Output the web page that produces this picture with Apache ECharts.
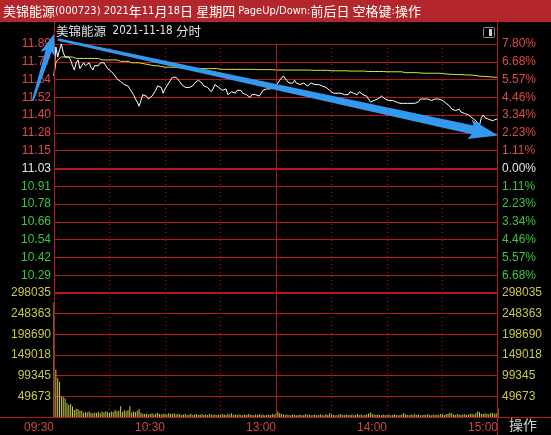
<!DOCTYPE html>
<html><head><meta charset="utf-8">
<script src="https://cdn.jsdelivr.net/npm/echarts@6/dist/echarts.min.js"></script>
<style>html,body{margin:0;padding:0;background:#000;}#c{width:551px;height:435px;}</style>
</head><body><div id="c"></div>
<script>
// ---------- data ----------
const stockTitle = '美锦能源(000723) 2021年11月18日 星期四 PageUp/Down:前后日 空格键:操作';
const subTitle = '美锦能源  2021-11-18 分时';
const prevClose = 11.03;
const priceMin = 10.17;
const priceMax = 11.89;
const volMax = 298035;
const priceTicks = ['11.89','11.77','11.64','11.52','11.40','11.28','11.15','11.03','10.91','10.78','10.66','10.54','10.42','10.29'];
const pctTicks = ['7.80%','6.68%','5.57%','4.46%','3.34%','2.23%','1.11%','0.00%','1.11%','2.23%','3.34%','4.46%','5.57%','6.68%'];
const volTicks = ['49673','99345','149018','198690','248363','298035'];
const timeTickIndex = [0,60,120,180,240];
const timeTicks = ['09:30','10:30','13:00','14:00','15:00'];

const price = [
11.67,11.87,11.80,11.85,11.89,11.83,11.80,11.79,11.80,11.78,
11.74,11.71,11.76,11.78,11.72,11.74,11.76,11.74,11.75,11.76,
11.73,11.71,11.74,11.75,11.74,11.76,11.76,11.76,11.74,11.72,
11.71,11.70,11.69,11.67,11.65,11.64,11.63,11.62,11.61,11.62,
11.60,11.58,11.56,11.54,11.51,11.49,11.46,11.50,11.54,11.55,
11.53,11.51,11.50,11.53,11.54,11.57,11.60,11.61,11.59,11.55,
11.58,11.60,11.62,11.64,11.66,11.67,11.66,11.65,11.63,11.61,
11.60,11.59,11.60,11.59,11.60,11.60,11.62,11.62,11.64,11.65,
11.62,11.60,11.61,11.59,11.58,11.56,11.58,11.61,11.60,11.59,
11.58,11.57,11.56,11.58,11.54,11.54,11.56,11.57,11.55,11.57,
11.58,11.57,11.55,11.56,11.54,11.53,11.52,11.54,11.53,11.54,
11.53,11.53,11.55,11.57,11.58,11.58,11.58,11.58,11.58,11.59,
11.59,11.62,11.64,11.65,11.67,11.65,11.64,11.62,11.61,11.62,
11.64,11.62,11.61,11.61,11.62,11.62,11.62,11.60,11.61,11.62,
11.62,11.61,11.61,11.61,11.60,11.60,11.59,11.59,11.59,11.57,
11.56,11.55,11.56,11.55,11.56,11.55,11.55,11.54,11.55,11.54,
11.56,11.56,11.55,11.55,11.54,11.56,11.55,11.54,11.55,11.53,
11.51,11.49,11.49,11.50,11.51,11.51,11.52,11.53,11.52,11.51,
11.51,11.50,11.50,11.50,11.50,11.49,11.49,11.48,11.48,11.48,
11.48,11.48,11.48,11.48,11.48,11.48,11.48,11.49,11.51,11.51,
11.51,11.50,11.51,11.51,11.50,11.51,11.51,11.50,11.51,11.51,
11.50,11.49,11.48,11.47,11.46,11.44,11.44,11.43,11.44,11.44,
11.42,11.42,11.41,11.40,11.40,11.40,11.38,11.37,11.36,11.35,
11.33,11.38,11.40,11.38,11.37,11.37,11.37,11.36,11.37,11.37,11.37
];
const avgPrice = [
11.67,11.76,11.78,11.79,11.80,11.80,11.80,11.80,11.80,11.80,
11.80,11.80,11.79,11.79,11.79,11.79,11.79,11.79,11.79,11.79,
11.79,11.79,11.79,11.79,11.79,11.79,11.78,11.78,11.78,11.78,
11.78,11.78,11.78,11.78,11.78,11.77,11.77,11.77,11.77,11.77,
11.77,11.77,11.76,11.76,11.76,11.76,11.76,11.755,11.755,11.75,
11.75,11.75,11.745,11.745,11.74,11.74,11.74,11.735,11.735,11.735,
11.73,11.73,11.73,11.73,11.73,11.73,11.73,11.725,11.725,11.725,
11.725,11.725,11.725,11.725,11.72,11.72,11.72,11.72,11.72,11.72,
11.72,11.72,11.72,11.72,11.72,11.72,11.72,11.72,11.72,11.72,
11.715,11.715,11.715,11.715,11.715,11.715,11.715,11.715,11.715,11.715,
11.715,11.715,11.715,11.715,11.715,11.715,11.715,11.715,11.715,11.715,
11.713,11.713,11.713,11.713,11.713,11.713,11.713,11.713,11.713,11.713,
11.71,11.71,11.71,11.71,11.71,11.71,11.71,11.71,11.71,11.71,
11.71,11.71,11.71,11.71,11.71,11.71,11.71,11.71,11.71,11.71,
11.708,11.708,11.708,11.708,11.708,11.708,11.708,11.708,11.708,11.708,
11.705,11.705,11.705,11.705,11.705,11.705,11.705,11.705,11.705,11.705,
11.703,11.703,11.703,11.703,11.703,11.703,11.703,11.703,11.703,11.703,
11.70,11.70,11.70,11.70,11.70,11.70,11.70,11.70,11.70,11.70,
11.698,11.698,11.698,11.698,11.698,11.698,11.698,11.698,11.698,11.698,
11.692,11.692,11.692,11.692,11.692,11.692,11.692,11.69,11.69,11.69,
11.688,11.688,11.688,11.688,11.688,11.688,11.688,11.688,11.688,11.688,
11.685,11.684,11.683,11.682,11.681,11.68,11.68,11.679,11.679,11.678,
11.678,11.677,11.677,11.676,11.676,11.675,11.675,11.674,11.672,11.67,
11.668,11.667,11.666,11.665,11.665,11.664,11.663,11.662,11.661,11.66,11.659
];
const volume = [
275000,114000,93000,85000,49000,48000,45000,33000,29000,31000,
25000,17000,20000,19000,15000,15000,10000,12000,11000,13000,
10000,9000,11000,10000,12000,9000,13000,11000,14000,12000,
10000,13000,12000,17000,14000,15000,26000,12000,17000,14000,
16000,26000,11000,13000,12000,15000,19000,10000,8000,7000,
8000,6000,7000,9000,6000,8000,10000,7000,6000,8000,
7000,6000,9000,8000,7000,9000,6000,8000,7000,5000,
6000,7000,5000,6000,8000,5000,6000,7000,5000,6000,
7000,5000,6000,5000,7000,6000,5000,6000,5000,6000,
5000,7000,6000,5000,8000,6000,9000,5000,6000,5000,
6000,5000,4000,6000,5000,7000,6000,5000,4000,6000,
5000,7000,5000,6000,4000,5000,6000,5000,7000,6000,
8000,13000,9000,7000,6000,5000,6000,5000,4000,6000,
5000,4000,5000,6000,4000,5000,7000,5000,6000,4000,
5000,6000,4000,5000,6000,5000,4000,7000,5000,9000,
6000,5000,4000,5000,6000,7000,5000,4000,6000,5000,
5000,6000,4000,5000,7000,5000,6000,4000,5000,6000,
8000,11000,7000,6000,5000,6000,5000,4000,6000,5000,
5000,6000,4000,5000,6000,5000,4000,5000,6000,10000,
6000,5000,4000,6000,5000,7000,5000,6000,4000,5000,
6000,5000,7000,5000,4000,6000,5000,6000,5000,7000,
6000,5000,7000,8000,10000,9000,6000,5000,7000,6000,
5000,6000,7000,5000,6000,8000,7000,6000,9000,13000,
12000,8000,7000,9000,8000,7000,9000,10000,8000,9000,21000
];

// trading minutes 09:30-11:30, 13:01-15:00
function hm(m){const h=Math.floor(m/60),mm=m%60;return (h<10?'0':'')+h+':'+(mm<10?'0':'')+mm;}
const minutes = [];
for (let m = 570; m <= 690; m++) minutes.push(hm(m));
for (let m = 781; m <= 900; m++) minutes.push(hm(m));

// ---------- style ----------
const RED = '#b41818';
const C_UP = '#e04848', C_FLAT = '#e8e8e8', C_DN = '#3cc43c', C_VOL = '#c8c84a', C_TIME = '#d04444';
const FONT = 'Liberation Sans';
const NARROW = '"Liberation Sans Narrow","DejaVu Sans Condensed","Liberation Sans"';

function cls(i){ return i < 7 ? 'u' : (i === 7 ? 'w' : 'd'); }
const rich = {
  u:{color:C_UP,fontFamily:FONT,fontSize:12},
  w:{color:C_FLAT,fontFamily:FONT,fontSize:12},
  d:{color:C_DN,fontFamily:FONT,fontSize:12}
};
// split mixed CJK / latin text into rich segments
function mixed(s){
  return s.match(/[\u3000-\u9fff\uff00-\uffef]+|[^\u3000-\u9fff\uff00-\uffef]+/g)
    .map(p => /[\u3000-\u9fff\uff00-\uffef]/.test(p) ? '{c|'+p+'}' : '{l|'+p+'}').join('');
}
function mixedRich(color, cjkSize, latSize){
  return {c:{color:color,fontSize:cjkSize,fontWeight:'normal',fontFamily:'Noto Sans CJK SC',lineHeight:16,verticalAlign:'middle'},
          l:{color:color,fontSize:latSize,fontWeight:'normal',fontFamily:NARROW,lineHeight:16,verticalAlign:'middle'}};
}

function arrow(tail, tip, w0, w1, hl, hw){
  const dx=tip[0]-tail[0], dy=tip[1]-tail[1], L=Math.hypot(dx,dy), ux=dx/L, uy=dy/L, nx=-uy, ny=ux;
  const bx=tip[0]-ux*hl, by=tip[1]-uy*hl;
  return [[tail[0]+nx*w0,tail[1]+ny*w0],[bx+nx*w1,by+ny*w1],[bx+nx*hw-ux*3,by+ny*hw-uy*3],tip,
          [bx-nx*hw-ux*3,by-ny*hw-uy*3],[bx-nx*w1,by-ny*w1],[tail[0]-nx*w0,tail[1]-ny*w0]];
}

const chart = echarts.init(document.getElementById('c'));
const xBase = {
  type:'category', data:minutes, boundaryGap:false,
  axisLine:{show:false}, axisTick:{show:false},
  splitLine:{show:true, interval:(i)=> i%30===0 && i>0 && i<240 && i!==120, lineStyle:{color:RED,type:[1,3],width:1}}
};
chart.setOption({
  backgroundColor:'#000',
  animation:false,
  title:[
    {text:mixed(stockTitle), left:3, top:3, padding:0, textStyle:{fontWeight:'normal', rich:mixedRich('#ffffff',13,11)}},
    {text:mixed(subTitle), left:56, top:23, padding:0, textStyle:{fontWeight:'normal', rich:mixedRich('#e0e0e0',12.5,11.5)}}
  ],
  grid:[
    {left:54, right:53, top:44, height:249},
    {left:54, right:53, top:293, height:124}
  ],
  xAxis:[
    Object.assign({gridIndex:0, axisLabel:{show:false}}, xBase),
    Object.assign({gridIndex:1, axisLabel:{show:true, interval:(i)=> timeTickIndex.indexOf(i)>=0,
      formatter:(v,i)=> timeTicks[timeTickIndex.indexOf(i)] || '', align:'right', margin:5,
      color:C_TIME, fontFamily:FONT, fontSize:12}}, xBase)
  ],
  yAxis:[
    {gridIndex:0, type:'value', min:0, max:14, interval:1, position:'left',
     axisLine:{show:false}, axisTick:{show:false},
     axisLabel:{margin:3, formatter:(v)=>{v=Math.round(v); if(v===0) return ''; const i=14-v; return '{'+cls(i)+'|'+priceTicks[i]+'}';}, rich:rich},
     splitLine:{show:true, lineStyle:{color:RED,width:1}}},
    {gridIndex:0, type:'value', min:0, max:14, interval:1, position:'right',
     axisLine:{show:false}, axisTick:{show:false},
     axisLabel:{margin:4, formatter:(v)=>{v=Math.round(v); if(v===0) return ''; const i=14-v; return '{'+cls(i)+'|'+pctTicks[i]+'}';}, rich:rich},
     splitLine:{show:false}},
    {gridIndex:0, type:'value', min:priceMin, max:priceMax, show:false, splitLine:{show:false}},
    {gridIndex:1, type:'value', min:0, max:volMax, interval:volMax/6, position:'left',
     axisLine:{show:false}, axisTick:{show:false},
     axisLabel:{margin:3, color:C_VOL, fontFamily:FONT, fontSize:12, formatter:(v)=>{const k=Math.round(v/(volMax/6)); return k===0?'':volTicks[k-1];}},
     splitLine:{show:true, lineStyle:{color:RED,width:1}}},
    {gridIndex:1, type:'value', min:0, max:volMax, interval:volMax/6, position:'right',
     axisLine:{show:false}, axisTick:{show:false},
     axisLabel:{margin:4, color:C_VOL, fontFamily:FONT, fontSize:12, formatter:(v)=>{const k=Math.round(v/(volMax/6)); return k===0?'':volTicks[k-1];}},
     splitLine:{show:false}}
  ],
  series:[
    {type:'line', xAxisIndex:0, yAxisIndex:2, data:avgPrice, showSymbol:false, lineStyle:{color:'#e6e63a',width:1}, z:3,
     markLine:{silent:true, symbol:'none', label:{show:false}, animation:false,
       data:[{yAxis:prevClose, lineStyle:{color:RED,width:2,type:'solid'}},
             {xAxis:minutes[120], lineStyle:{color:RED,width:1,type:'solid'}}]}},
    {type:'line', xAxisIndex:0, yAxisIndex:2, data:price, showSymbol:false, lineStyle:{color:'#ffffff',width:1}, z:4},
    {type:'bar', xAxisIndex:1, yAxisIndex:3, data:volume, barWidth:1, itemStyle:{color:C_VOL}, z:3,
     markLine:{silent:true, symbol:'none', label:{show:false}, animation:false,
       data:[{yAxis:volMax, lineStyle:{color:RED,width:2,type:'solid'}},
             {xAxis:minutes[120], lineStyle:{color:RED,width:1,type:'solid'}}]}}
  ],
  graphic:[
    {type:'rect', z:-10, shape:{x:0,y:0,width:551,height:22}, style:{fill:'#b3272c'}},
    {type:'line', z:5, shape:{x1:54.5,y1:22,x2:54.5,y2:417}, style:{stroke:RED,lineWidth:1}},
    {type:'line', z:5, shape:{x1:497.5,y1:22,x2:497.5,y2:435}, style:{stroke:RED,lineWidth:1}},
    {type:'line', z:5, shape:{x1:0,y1:417.5,x2:551,y2:417.5}, style:{stroke:RED,lineWidth:1}},
    {type:'rect', z:5, shape:{x:483.5,y:27.5,width:11,height:10,r:1}, style:{fill:'none',stroke:'#909090',lineWidth:1}},
    {type:'rect', z:5, shape:{x:489,y:29,width:3,height:7}, style:{fill:'#d0d0d0'}},
    {type:'text', z:5, left:509, top:418, style:{text:'操作', fill:'#d0d0d0', font:'14px "Noto Sans CJK SC"'}},
    {type:'polygon', z:100, shape:{points:arrow([33,100],[54,34],1,3,18,7.5)}, style:{fill:'#3399ee'}},
    {type:'polygon', z:100, shape:{points:arrow([58,39.5],[498,135.5],1.2,4.5,26,10)}, style:{fill:'#3399ee'}}
  ]
});
</script></body></html>
